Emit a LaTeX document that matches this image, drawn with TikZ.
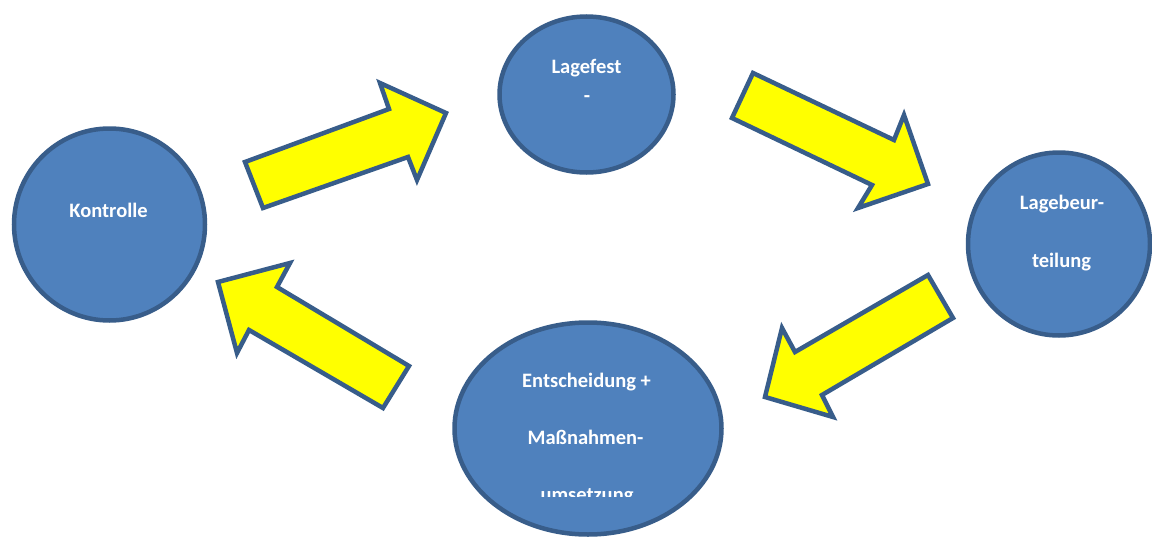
\documentclass[tikz,border=0pt]{standalone}
\usepackage{fontspec}
\setmainfont{Carlito}
\usetikzlibrary{shapes.geometric}
\definecolor{bubblefill}{HTML}{4F81BD}
\definecolor{bubbleline}{HTML}{385D8A}
\definecolor{arrowfill}{HTML}{FFFF00}
\tikzset{
  bubble/.style={ellipse, draw=bubbleline, fill=bubblefill, line width=4.5pt, inner sep=0pt},
  blockarrow/.style={draw=bubbleline, fill=arrowfill, line width=4.5pt, line join=miter},
  label/.style={text=white, font=\fontsize{20.5}{24}\selectfont\bfseries, anchor=base, inner sep=0pt},
}
\begin{document}
\begin{tikzpicture}[x=1pt, y=-1pt]
\useasboundingbox (0,0) rectangle (1152,538);
% bubbles
\node[bubble, minimum width=191pt, minimum height=192pt] (kontrolle) at (109.5,224.5) {};
\node[bubble, minimum width=174pt, minimum height=156pt] (lagefest) at (586.5,94.5) {};
\node[bubble, minimum width=182pt, minimum height=183pt] (lagebeur) at (1059,244) {};
\node[bubble, minimum width=267pt, minimum height=212pt] (entscheidung) at (588,428.5) {};
% block arrows
\draw[blockarrow] (263,208) -- (245,162) -- (389,109) -- (380,83) -- (446,113) -- (417,180) -- (408,157) -- cycle;
\draw[blockarrow] (753,73) -- (732,118) -- (872,185) -- (858,208) -- (928,184) -- (904,115) -- (894,140) -- cycle;
\draw[blockarrow] (928,275) -- (953,318) -- (822,395) -- (833,417) -- (765,397) -- (782,328) -- (795,352) -- cycle;
\draw[blockarrow] (218,282) -- (290,263) -- (277,287) -- (409,366) -- (383,408) -- (249,330) -- (237,353) -- cycle;
% labels
\node[label] (tk) at (108.5,217) {Kontrolle};
\node[label] (tl1) at (586.5,73) {Lagefest};
\node[label] (tl2) at (587,102) {-};
\node[label] (tb1) at (1062,209) {Lagebeur-};
\node[label] (tb2) at (1061.5,267) {teilung};
\node[label] (te1) at (586.5,387) {Entscheidung +};
\node[label] (te2) at (585.5,444) {Maßnahmen-};
\begin{scope}
\clip (450,400) rectangle (730,496);
\node[label] (te3) at (587,501) {umsetzung};
\end{scope}
\end{tikzpicture}
\end{document}
